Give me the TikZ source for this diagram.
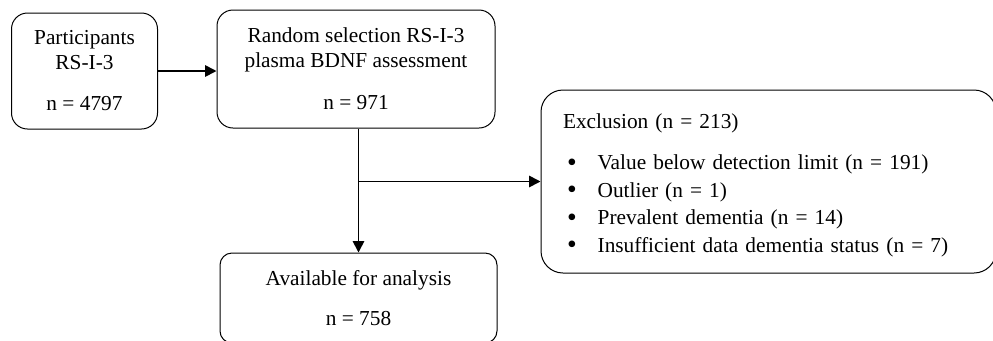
\documentclass[tikz,border=0pt]{standalone}
\usepackage{fontspec}
\setmainfont{Liberation Serif}
\usetikzlibrary{positioning, arrows.meta}

\newcommand{\bulletitem}{\hspace*{3pt}\makebox[23pt][l]{\raisebox{-0.08em}{\scalebox{1.3}{\textbullet}}}}

\begin{document}
\begin{tikzpicture}[x=0.75pt, y=-0.75pt, >={Triangle[length=8.5pt, width=8.5pt]},
    every node/.style={align=center, font=\fontsize{16}{18.75}\selectfont},
    box/.style={draw, line width=0.75pt},
    flow/.style={->, line width=1.3pt}]
    \useasboundingbox (0,0) rectangle (993,340);
    % Participants
    \node[box, rounded corners=12pt, minimum width=109.5pt, minimum height=87pt] (part) at (84.5,71)
        {Participants\\RS-I-3\\[12pt]n = 4797};
    % Random selection
    \node[box, rounded corners=12pt, minimum width=208.5pt, minimum height=88.5pt] (rand) at (356,69)
        {Random selection RS-I-3\\plasma BDNF assessment\\[12.75pt]n = 971};
    % Exclusion list
    \node[box, rounded corners=16.5pt, minimum width=341.25pt, minimum height=137.25pt,
        text width=308.25pt, inner xsep=16.5pt, align=left, text height=11pt, text depth=91.2pt,
        font=\fontsize{16}{20.6}\selectfont] (excl) at (768.5,181.5)
        {Exclusion (n = 213)\\[10.6pt]
         \bulletitem Value below detection limit (n = 191)\\
         \bulletitem Outlier (n = 1)\\
         \bulletitem Prevalent dementia (n = 14)\\
         \bulletitem Insufficient data dementia status (n = 7)};
    % Available for analysis
    \node[box, rounded corners=9pt, minimum width=207.75pt, minimum height=67.5pt] (avail) at (358.5,298)
        {Available for analysis\\[11.25pt]n = 758};
    % Arrows
    \draw[flow] (part.east) -- (part.east -| rand.west);
    \draw[flow] (avail.north |- rand.south) -- (avail.north);
    \draw[flow] (excl.west -| avail.north) -- (excl.west);
\end{tikzpicture}
\end{document}
